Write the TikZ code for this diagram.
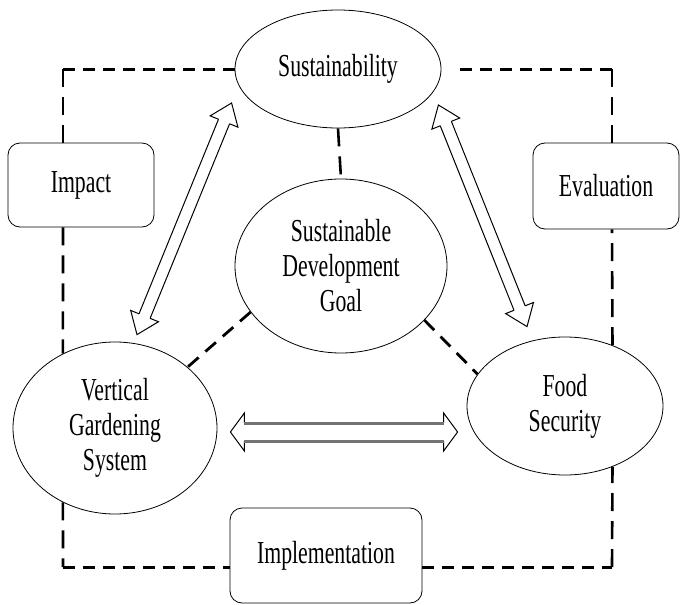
\documentclass[tikz,border=0pt]{standalone}
\usepackage{fontspec}
\setmainfont{Liberation Serif}[FakeStretch=0.68]
\usetikzlibrary{arrows.meta, shapes.geometric, calc}

% two-headed hollow arrow: [shaft style]{from}{to}{shaft half width}{head half width}{head length}
\newcommand{\dblarrow}[6][]{%
  \path ($(#2)!#6!(#3)$) coordinate (ha) ($(#3)!#6!(#2)$) coordinate (hb);
  \draw[line width=1pt, line join=miter] ($(ha)!#4!90:(#3)$) -- ($(ha)!#5!90:(#3)$)
    -- (#2) -- ($(ha)!#5!-90:(#3)$) -- ($(ha)!#4!-90:(#3)$);
  \draw[line width=1pt, line join=miter] ($(hb)!#4!90:(#2)$) -- ($(hb)!#5!90:(#2)$)
    -- (#3) -- ($(hb)!#5!-90:(#2)$) -- ($(hb)!#4!-90:(#2)$);
  \draw[line width=1pt, #1] ($(ha)!#4!90:(#3)$) -- ($(hb)!#4!-90:(#2)$);
  \draw[line width=1pt, #1] ($(ha)!#4!-90:(#3)$) -- ($(hb)!#4!90:(#2)$);
}

\begin{document}
\begin{tikzpicture}[
    x=1pt, y=-1pt,
    bubble/.style={draw, ellipse, inner sep=0pt, line width=0.8pt,
                   align=center, font=\fontsize{32}{35}\selectfont},
    tag/.style={draw, rounded corners=12pt, line width=0.8pt,
                align=center, font=\fontsize{32}{35}\selectfont},
    hlink/.style={line width=3pt, dash pattern=on 12pt off 8pt},
    vlink/.style={line width=2.6pt, dash pattern=on 18pt off 10pt},
    slink/.style={line width=2.8pt, dash pattern=on 14pt off 9pt},
  ]
    \useasboundingbox (0,0) rectangle (681,605);

    % Ellipses
    \node[bubble, minimum width=206pt, minimum height=118pt] (sust) at (338,69)
      {Sustainability};
    \node[bubble, minimum width=212pt, minimum height=174pt] (sdg) at (341,266)
      {Sustainable\\Development\\Goal};
    \node[bubble, minimum width=204pt, minimum height=172pt] (vgs) at (115,428)
      {Vertical\\Gardening\\System};
    \node[bubble, minimum width=196pt, minimum height=138pt] (food) at (565,406)
      {Food\\Security};

    % Boxes on the frame
    \node[tag, minimum width=146pt, minimum height=84pt] (impact) at (81,185) {Impact};
    \node[tag, minimum width=146pt, minimum height=86pt] (eval) at (606,186) {Evaluation};
    \node[tag, minimum width=192pt, minimum height=95pt] (impl) at (326,555.5)
      {Implementation};

    % Frame corners
    \coordinate (tl) at (63,69);
    \coordinate (tr) at (612,69);
    \coordinate (bl) at (63,567);
    \coordinate (br) at (612,567);

    % Dashed frame
    \draw[hlink] (sust.west) -- (tl);
    \draw[vlink] (tl) -- (tl |- impact.north);
    \draw[vlink] (tl |- impact.south) -- (vgs.125);
    \draw[vlink] (vgs.235) -- (bl);
    \draw[hlink] (bl) -- (bl -| impl.west);
    \draw[hlink] (impl.east |- br) -- (br);
    \draw[vlink] (br) -- (food.-52);
    \draw[vlink] (food.52) -- (tr |- eval.south);
    \draw[vlink] (tr |- eval.north) -- (tr);
    \draw[hlink] (tr) -- ([xshift=12pt]sust.east);

    % Dashed links to the goal
    \draw[vlink] (sust.south) -- (sdg.north);
    \draw[slink] (sdg.207) -- (vgs.40);
    \draw[slink] (sdg.-33) -- (food.160);

    % Arrow ends
    \coordinate (vs) at ($(vgs.north)+(22,-7)$);
    \coordinate (sv) at ($(sust.west)+(-3,34)$);
    \coordinate (sf) at ($(sust.east)+(-3,36)$);
    \coordinate (fs) at ($(food.north)+(-38,-10)$);
    \coordinate (vf) at ($(vgs.east)+(13,4)$);
    \coordinate (fv) at (vf -| food.west);

    % Two-way arrows
    \dblarrow{vs}{sv}{6pt}{15pt}{20pt}
    \dblarrow{sf}{fs}{6pt}{15pt}{20pt}
    \dblarrow[line width=3pt, black!55]{vf}{[xshift=-9pt]fv}{9pt}{19pt}{14pt}
  \end{tikzpicture}
\end{document}
